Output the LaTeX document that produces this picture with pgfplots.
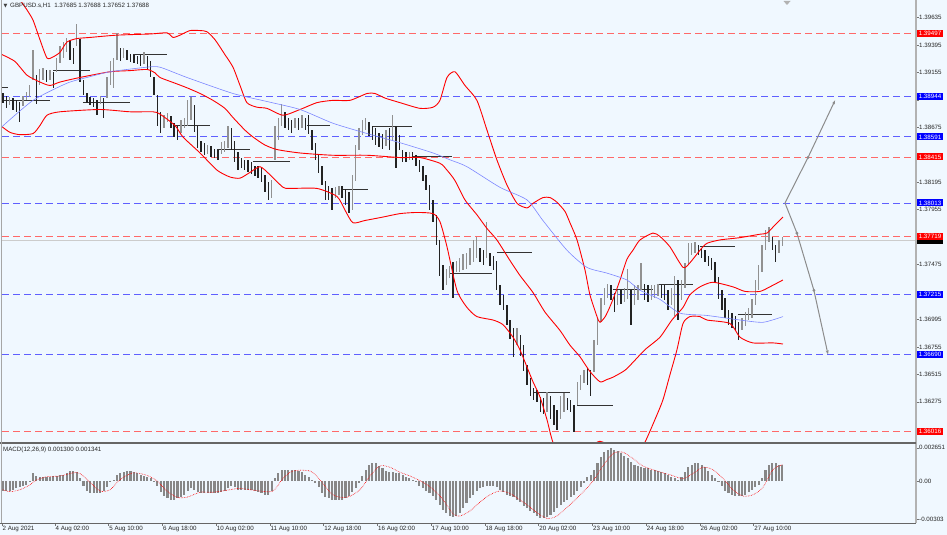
\documentclass[border=0pt]{standalone}
\usepackage{pgfplots}
\pgfplotsset{compat=1.18}
\usepackage{pgfplotstable}
\usetikzlibrary{arrows.meta}
\usepackage{fontspec}
\setmainfont{Liberation Sans}
\newfontfamily\symfont{DejaVu Sans}
\definecolor{bg}{RGB}{240,248,255}
\definecolor{bbred}{RGB}{255,0,0}
\definecolor{lvlred}{RGB}{255,105,105}
\definecolor{lvlblue}{RGB}{95,95,255}
\definecolor{mablue}{RGB}{125,135,255}
\definecolor{upgray}{RGB}{145,145,145}
\definecolor{dnblack}{RGB}{35,35,35}
\definecolor{histgray}{RGB}{135,135,135}
\definecolor{arrowgray}{RGB}{140,140,140}
\newcommand{\tf}{\fontsize{6.2}{7}\selectfont}

\pgfplotstableread{
x h l u
0 1.3897 1.3889 0
2 1.3895 1.3884 0
4 1.3894 1.3887 1
6 1.3893 1.3883 0
8 1.3891 1.3881 0
10 1.3890 1.3872 0
12 1.3895 1.3886 1
14 1.3898 1.3891 1
16 1.3904 1.3894 1
18 1.3935 1.3909 1
20 1.3913 1.3888 0
22 1.3918 1.3904 1
24 1.3919 1.3909 1
26 1.3918 1.3907 0
28 1.3918 1.3909 1
30 1.3916 1.3902 0
32 1.3928 1.3916 1
34 1.3939 1.3924 1
36 1.3942 1.3928 1
38 1.3946 1.3933 1
40 1.3944 1.3926 0
42 1.3937 1.3923 0
44 1.3958 1.3939 1
46 1.3945 1.3907 0
48 1.3909 1.3896 0
50 1.3897 1.3889 0
52 1.3894 1.3887 0
54 1.3893 1.3885 0
56 1.3891 1.3878 0
58 1.3895 1.3888 1
60 1.3893 1.3876 0
62 1.3911 1.3893 1
64 1.3925 1.3904 1
66 1.3928 1.3902 1
68 1.3950 1.3926 1
70 1.3937 1.3925 0
72 1.3937 1.3928 1
74 1.3935 1.3926 0
76 1.3932 1.3925 0
78 1.3931 1.3924 0
80 1.3930 1.3923 0
82 1.3931 1.3921 0
84 1.3933 1.3923 1
86 1.3930 1.3918 0
88 1.3925 1.3911 0
90 1.3911 1.3896 0
92 1.3896 1.3869 0
94 1.3881 1.3863 0
96 1.3878 1.3867 1
98 1.3880 1.3872 1
100 1.3877 1.3867 0
102 1.3871 1.3859 0
104 1.3869 1.3856 0
106 1.3874 1.3863 1
108 1.3876 1.3867 1
110 1.3891 1.3869 1
112 1.3894 1.3874 1
114 1.3887 1.3863 0
116 1.3869 1.3849 0
118 1.3856 1.3846 0
120 1.3854 1.3843 0
122 1.3852 1.3844 1
124 1.3851 1.3842 0
126 1.3849 1.3841 0
128 1.3848 1.3839 0
130 1.3855 1.3844 1
132 1.3856 1.3846 1
134 1.3869 1.3849 1
136 1.3867 1.3848 0
138 1.3856 1.3837 0
140 1.3846 1.3830 0
142 1.3841 1.3832 0
144 1.3839 1.3830 0
146 1.3839 1.3828 0
148 1.3837 1.3827 0
150 1.3834 1.3825 0
152 1.3834 1.3823 0
154 1.3832 1.3820 0
156 1.3826 1.3811 0
158 1.3820 1.3804 0
160 1.3821 1.3806 1
162 1.3869 1.3839 1
164 1.3876 1.3856 1
166 1.3888 1.3869 1
168 1.3881 1.3867 0
170 1.3876 1.3865 0
172 1.3874 1.3863 0
174 1.3876 1.3867 1
176 1.3876 1.3865 0
178 1.3878 1.3867 1
180 1.3876 1.3865 0
182 1.3878 1.3862 0
184 1.3865 1.3848 0
186 1.3854 1.3839 0
188 1.3843 1.3828 0
190 1.3834 1.3817 0
192 1.3821 1.3804 0
194 1.3816 1.3804 0
196 1.3814 1.3795 0
198 1.3815 1.3806 1
200 1.3816 1.3808 1
202 1.3816 1.3806 0
204 1.3814 1.3800 0
206 1.3811 1.3793 0
208 1.3826 1.3795 1
210 1.3852 1.3821 1
212 1.3867 1.3848 1
214 1.3874 1.3861 1
216 1.3876 1.3865 1
218 1.3872 1.3860 0
220 1.3869 1.3856 0
222 1.3867 1.3852 0
224 1.3863 1.3850 0
226 1.3862 1.3849 0
228 1.3865 1.3851 1
230 1.3867 1.3848 0
232 1.3878 1.3856 1
234 1.3869 1.3832 0
236 1.3861 1.3848 0
238 1.3848 1.3837 0
240 1.3846 1.3837 0
242 1.3846 1.3839 1
244 1.3846 1.3839 0
246 1.3843 1.3834 0
248 1.3839 1.3828 0
250 1.3834 1.3821 0
252 1.3826 1.3813 0
254 1.3817 1.3795 0
256 1.3804 1.3785 0
258 1.3791 1.3765 0
260 1.3769 1.3738 0
262 1.3747 1.3725 0
264 1.3744 1.3730 1
266 1.3746 1.3736 1
268 1.3750 1.3718 0
270 1.3751 1.3741 1
272 1.3753 1.3741 1
274 1.3757 1.3743 1
276 1.3758 1.3744 1
278 1.3762 1.3747 1
280 1.3769 1.3750 1
282 1.3772 1.3753 1
284 1.3762 1.3750 0
286 1.3760 1.3747 0
288 1.3785 1.3753 1
290 1.3758 1.3746 0
292 1.3755 1.3743 0
294 1.3751 1.3725 0
296 1.3730 1.3712 0
298 1.3721 1.3708 0
300 1.3712 1.3695 0
302 1.3699 1.3682 0
304 1.3692 1.3667 0
306 1.3692 1.3677 1
308 1.3686 1.3668 0
310 1.3677 1.3654 0
312 1.3660 1.3642 0
314 1.3648 1.3633 0
316 1.3640 1.3629 0
318 1.3638 1.3627 0
320 1.3632 1.3619 0
322 1.3631 1.3617 0
324 1.3636 1.3619 1
326 1.3633 1.3613 0
328 1.3625 1.3607 0
330 1.3620 1.3603 0
332 1.3633 1.3613 1
334 1.3635 1.3619 1
336 1.3631 1.3620 0
338 1.3629 1.3619 0
340 1.3625 1.3601 0
342 1.3645 1.3625 1
344 1.3651 1.3638 1
346 1.3655 1.3644 1
348 1.3657 1.3642 0
350 1.3655 1.3633 0
352 1.3682 1.3654 1
354 1.3701 1.3677 1
356 1.3718 1.3697 1
358 1.3727 1.3712 1
360 1.3731 1.3718 1
362 1.3730 1.3717 0
364 1.3723 1.3706 0
366 1.3725 1.3712 1
368 1.3725 1.3713 0
370 1.3727 1.3715 1
372 1.3744 1.3717 1
374 1.3725 1.3695 0
376 1.3730 1.3712 1
378 1.3730 1.3717 1
380 1.3749 1.3725 1
382 1.3731 1.3717 0
384 1.3730 1.3715 0
386 1.3730 1.3717 1
388 1.3730 1.3718 1
390 1.3731 1.3720 1
392 1.3730 1.3718 0
394 1.3730 1.3717 0
396 1.3725 1.3708 0
398 1.3727 1.3712 1
400 1.3738 1.3703 1
402 1.3734 1.3699 0
404 1.3734 1.3717 1
406 1.3749 1.3727 1
408 1.3766 1.3747 1
410 1.3766 1.3756 1
412 1.3767 1.3758 1
414 1.3765 1.3756 0
416 1.3762 1.3753 0
418 1.3760 1.3750 0
420 1.3755 1.3746 0
422 1.3753 1.3743 0
424 1.3750 1.3732 0
426 1.3737 1.3717 0
428 1.3725 1.3708 0
430 1.3718 1.3701 0
432 1.3708 1.3695 0
434 1.3705 1.3692 0
436 1.3703 1.3690 0
438 1.3697 1.3682 0
440 1.3701 1.3690 1
442 1.3706 1.3694 1
444 1.3710 1.3699 1
446 1.3717 1.3701 1
448 1.3734 1.3712 1
450 1.3747 1.3725 1
452 1.3765 1.3741 1
454 1.3778 1.3760 1
456 1.3780 1.3767 1
458 1.3772 1.3760 0
460 1.3765 1.3750 0
462 1.3769 1.3758 1
464 1.3772 1.3764 1
}\bars

\pgfplotstableread{
x y
7.2 1.3987
10.2 1.3979
14.4 1.3970
18.0 1.3961
22.1 1.3944
26.3 1.3928
29.9 1.3929
34.0 1.3933
38.2 1.3942
44.1 1.3945
51.9 1.3946
67.9 1.3948
87.6 1.3949
97.7 1.3950
101.3 1.3946
105.5 1.3948
111.4 1.3952
117.4 1.3952
121.5 1.3951
126.3 1.3944
132.2 1.3931
137.0 1.3920
141.2 1.3904
145.3 1.3889
151.3 1.3885
157.2 1.3884
166.8 1.3878
176.9 1.3883
187.0 1.3889
196.5 1.3891
206.6 1.3891
216.8 1.3897
221.5 1.3897
227.5 1.3893
236.4 1.3889
248.3 1.3884
256.1 1.3885
260.2 1.3891
264.4 1.3911
269.1 1.3916
275.1 1.3904
282.2 1.3891
288.2 1.3865
294.1 1.3839
300.1 1.3817
306.1 1.3801
312.0 1.3797
315.6 1.3801
321.5 1.3806
325.7 1.3806
329.8 1.3802
334.6 1.3794
337.6 1.3784
341.8 1.3769
346.5 1.3743
349.5 1.3721
353.7 1.3702
355.5 1.3697
359.0 1.3703
363.2 1.3717
367.4 1.3734
371.5 1.3752
375.1 1.3760
379.3 1.3769
387.0 1.3775
391.2 1.3772
397.1 1.3763
404.9 1.3745
409.0 1.3749
415.0 1.3760
419.1 1.3766
426.9 1.3769
438.8 1.3771
450.7 1.3774
454.9 1.3775
459.6 1.3782
464.4 1.3789
}\ub

\pgfplotstableread{
x y
-0.5 1.3931
7.2 1.3925
14.4 1.3913
22.1 1.3907
28.1 1.3904
34.0 1.3907
45.9 1.3911
63.8 1.3916
75.7 1.3917
85.8 1.3918
90.6 1.3915
93.5 1.3911
102.5 1.3906
109.6 1.3902
117.4 1.3897
125.1 1.3891
132.2 1.3884
137.0 1.3876
144.1 1.3865
148.9 1.3859
156.0 1.3852
163.2 1.3848
176.9 1.3845
196.5 1.3843
216.8 1.3843
236.4 1.3841
248.3 1.3841
260.2 1.3836
264.4 1.3830
269.1 1.3821
275.1 1.3804
282.2 1.3791
288.2 1.3779
294.1 1.3769
301.9 1.3751
307.8 1.3738
315.6 1.3723
322.7 1.3706
331.6 1.3690
337.6 1.3677
343.5 1.3667
349.5 1.3654
355.5 1.3645
359.6 1.3647
363.2 1.3649
370.3 1.3655
375.1 1.3662
382.2 1.3673
391.2 1.3684
398.3 1.3699
404.9 1.3710
409.0 1.3721
415.0 1.3728
422.7 1.3732
434.6 1.3728
441.8 1.3724
450.7 1.3724
456.6 1.3728
464.4 1.3734
}\mb

\pgfplotstableread{
x y
-0.5 1.3868
4.3 1.3863
10.2 1.3861
18.0 1.3862
22.1 1.3869
26.3 1.3878
34.0 1.3881
57.8 1.3883
75.7 1.3881
89.4 1.3881
93.5 1.3879
102.5 1.3869
107.2 1.3859
117.4 1.3845
127.5 1.3830
135.2 1.3824
141.2 1.3823
147.1 1.3828
153.1 1.3833
159.0 1.3826
166.8 1.3815
170.9 1.3814
187.0 1.3814
198.9 1.3807
203.7 1.3795
208.4 1.3784
215.6 1.3786
226.3 1.3789
236.4 1.3792
246.5 1.3793
256.1 1.3792
260.2 1.3785
264.4 1.3763
270.3 1.3725
276.3 1.3710
282.2 1.3702
291.8 1.3699
297.7 1.3695
303.7 1.3684
307.8 1.3673
312.0 1.3658
315.6 1.3645
319.7 1.3632
323.9 1.3612
327.5 1.3592
334.6 1.3572
343.5 1.3581
351.3 1.3590
355.5 1.3593
359.6 1.3590
367.4 1.3577
376.3 1.3578
382.2 1.3592
388.2 1.3612
392.9 1.3629
397.1 1.3651
401.3 1.3673
404.9 1.3696
409.0 1.3702
415.0 1.3702
419.1 1.3699
432.8 1.3696
438.8 1.3684
446.5 1.3679
458.4 1.3679
464.4 1.3678
}\lb

\pgfplotstableread{
x y
-0.5 1.3868
18.0 1.3891
38.2 1.3906
50.1 1.3911
63.8 1.3916
85.8 1.3920
93.5 1.3920
109.6 1.3911
137.0 1.3897
157.2 1.3890
176.9 1.3883
196.5 1.3871
216.8 1.3862
236.4 1.3854
256.1 1.3845
266.2 1.3839
276.3 1.3833
295.9 1.3815
312.0 1.3804
321.5 1.3786
335.8 1.3760
347.7 1.3745
359.6 1.3740
371.5 1.3734
379.3 1.3725
391.2 1.3717
403.1 1.3705
419.1 1.3703
438.8 1.3699
452.5 1.3697
464.4 1.3702
}\ma

\pgfplotstableread{
x y
-0.5 1.3902
3.1 1.3902
nan nan
0.1 1.3891
28.1 1.3891
nan nan
29.9 1.3917
51.9 1.3917
nan nan
47.7 1.3889
75.7 1.3889
nan nan
77.5 1.3931
97.7 1.3931
nan nan
101.3 1.3869
123.3 1.3869
nan nan
127.5 1.3848
147.1 1.3848
nan nan
148.9 1.3838
170.9 1.3838
nan nan
181.0 1.3869
194.7 1.3869
nan nan
202.5 1.3813
217.4 1.3813
nan nan
220.3 1.3868
243.5 1.3868
nan nan
244.1 1.3842
267.4 1.3842
nan nan
266.2 1.3740
291.2 1.3740
nan nan
294.1 1.3758
315.0 1.3758
nan nan
315.6 1.3636
337.6 1.3636
nan nan
341.8 1.3624
363.2 1.3624
nan nan
363.2 1.3726
387.0 1.3726
nan nan
389.4 1.3730
410.8 1.3730
nan nan
415.0 1.3763
435.8 1.3763
nan nan
437.6 1.3704
457.8 1.3704
}\piv

\pgfplotstableread{
x m
0 -0.0008
2 -0.0008
4 -0.0008
6 -0.0007
8 -0.0006
10 -0.0005
12 -0.0004
14 -0.0003
16 -0.0001
18 0.0006
20 0.0004
22 0.0003
24 0.0003
26 0.0003
28 0.0003
30 0.0004
32 0.0004
34 0.0005
36 0.0005
38 0.0006
40 0.0008
42 0.0008
44 0.0007
46 0.0002
48 -0.0004
50 -0.0008
52 -0.0010
54 -0.0010
56 -0.0010
58 -0.0010
60 -0.0008
62 -0.0005
64 -0.0001
66 0.0001
68 0.0005
70 0.0006
72 0.0007
74 0.0008
76 0.0008
78 0.0007
80 0.0006
82 0.0005
84 0.0004
86 0.0003
88 0.0002
90 -0.0001
92 -0.0004
94 -0.0009
96 -0.0012
98 -0.0014
100 -0.0015
102 -0.0015
104 -0.0014
106 -0.0013
108 -0.0011
110 -0.0008
112 -0.0006
114 -0.0007
116 -0.0009
118 -0.0010
120 -0.0010
122 -0.0010
124 -0.0010
126 -0.0010
128 -0.0010
130 -0.0009
132 -0.0008
134 -0.0006
136 -0.0004
138 -0.0005
140 -0.0007
142 -0.0007
144 -0.0007
146 -0.0007
148 -0.0007
150 -0.0008
152 -0.0009
154 -0.0010
156 -0.0011
158 -0.0011
160 -0.0008
162 0.0002
164 0.0006
166 0.0009
168 0.0009
170 0.0009
172 0.0009
174 0.0009
176 0.0008
178 0.0007
180 0.0005
182 0.0003
184 0.0001
186 -0.0002
188 -0.0005
190 -0.0010
192 -0.0013
194 -0.0014
196 -0.0015
198 -0.0015
200 -0.0015
202 -0.0015
204 -0.0014
206 -0.0012
208 -0.0009
210 -0.0006
212 -0.0002
214 0.0004
216 0.0009
218 0.0013
220 0.0014
222 0.0014
224 0.0012
226 0.0010
228 0.0008
230 0.0007
232 0.0007
234 0.0006
236 0.0006
238 0.0005
240 0.0003
242 0.0002
244 0.0001
246 -0.0001
248 -0.0004
250 -0.0006
252 -0.0008
254 -0.0010
256 -0.0012
258 -0.0015
260 -0.0019
262 -0.0023
264 -0.0026
266 -0.0028
268 -0.0029
270 -0.0028
272 -0.0026
274 -0.0022
276 -0.0018
278 -0.0014
280 -0.0011
282 -0.0008
284 -0.0006
286 -0.0005
288 -0.0004
290 -0.0004
292 -0.0004
294 -0.0005
296 -0.0007
298 -0.0009
300 -0.0011
302 -0.0012
304 -0.0013
306 -0.0015
308 -0.0017
310 -0.0020
312 -0.0022
314 -0.0024
316 -0.0026
318 -0.0028
320 -0.0030
322 -0.0030
324 -0.0029
326 -0.0027
328 -0.0025
330 -0.0022
332 -0.0019
334 -0.0017
336 -0.0015
338 -0.0013
340 -0.0011
342 -0.0008
344 -0.0005
346 -0.0002
348 0.0003
350 0.0005
352 0.0009
354 0.0014
356 0.0019
358 0.0023
360 0.0025
362 0.0026
364 0.0025
366 0.0024
368 0.0022
370 0.0020
372 0.0018
374 0.0015
376 0.0013
378 0.0012
380 0.0011
382 0.0010
384 0.0010
386 0.0009
388 0.0009
390 0.0008
392 0.0007
394 0.0006
396 0.0005
398 0.0003
400 0.0002
402 0.0001
404 0.0003
406 0.0007
408 0.0011
410 0.0013
412 0.0014
414 0.0014
416 0.0013
418 0.0011
420 0.0008
422 0.0005
424 0.0002
426 -0.0001
428 -0.0004
430 -0.0008
432 -0.0010
434 -0.0011
436 -0.0012
438 -0.0012
440 -0.0012
442 -0.0011
444 -0.0009
446 -0.0007
448 -0.0005
450 -0.0003
452 0.0002
454 0.0009
456 0.0013
458 0.0014
460 0.0014
462 0.0013
464 0.0013
}\macd

\pgfplotstableread{
x s
0 -0.0007
4.3 -0.00085
10.2 -0.0007
16.2 -0.0003
20.3 0.0001
26.3 0.00035
34 0.0004
41.8 0.00065
45.9 0.0006
51.9 -0.0001
57.8 -0.0008
63.8 -0.0007
69.7 0.0001
77.5 0.00065
85.8 0.00045
91.8 0.0000
97.7 -0.0008
103.7 -0.0013
109.6 -0.0013
117.4 -0.0009
125.1 -0.0009
135.2 -0.0007
141.2 -0.0006
153 -0.0008
160.8 -0.0008
166.8 0.0002
172.7 0.0008
182.8 0.0008
188.8 0.0001
196.5 -0.0011
204.8 -0.0013
212.6 -0.0007
218.5 0.0004
224.5 0.0012
230.4 0.0011
236.4 0.0007
244.1 0.0003
252.5 -0.0003
260.2 -0.0012
268 -0.0026
272.1 -0.0028
278 -0.0024
284 -0.0017
290 -0.0011
295.9 -0.0008
301.9 -0.0010
307.8 -0.0015
313.8 -0.0021
319.7 -0.0027
324.5 -0.0030
329.8 -0.0028
337.6 -0.0019
345.3 -0.0009
351.3 0.0000
357.2 0.0012
363.2 0.0022
369.1 0.0023
375.1 0.0018
381 0.0012
389.4 0.0008
397.1 0.0005
404.9 0.0002
410.8 0.0006
416.8 0.0011
422.7 0.0009
428.7 0.0002
434.6 -0.0007
440.6 -0.0012
446.5 -0.0011
452.5 -0.0005
458.4 0.0009
464 0.0013
}\sig

\begin{document}
\begin{tikzpicture}[x=1pt,y=1pt]
\fill[bg] (0,0) rectangle (947,535);
\useasboundingbox (0,0) rectangle (947,535);

\begin{axis}[
  at={(2pt,92pt)}, anchor=south west, width=914pt, height=440pt, scale only axis,
  xmin=-0.5, xmax=543.6, ymin=1.35915, ymax=1.39761,
  axis x line=none, axis y line*=right,
  y axis line style={draw=none},
  scaled ticks=false,
  ytick={1.36035,1.36275,1.36515,1.36755,1.36995,1.37235,1.37475,1.37715,1.37955,1.38195,1.38435,1.38675,1.38915,1.39155,1.39395,1.39635},
  yticklabels={,1.36275,1.36515,1.36755,1.36995,,1.37475,,1.37955,1.38195,,1.38675,,1.39155,1.39395,1.39635},
  tick align=outside, major tick length=2.5pt,
  ytick style={draw=black!55, line width=0.5pt},
  yticklabel style={font=\tf, text=black!85, inner sep=0.5pt},
  clip mode=individual,
]
% current price line
\addplot[black!20, line width=0.6pt, forget plot] coordinates {(-0.5,1.37688) (543.6,1.37688)};
% levels
\addplot[lvlred, dash pattern=on 7pt off 4pt, line width=0.8pt, forget plot] coordinates {(-0.5,1.39497) (543.6,1.39497)};
\addplot[lvlred, dash pattern=on 7pt off 4pt, line width=0.8pt, forget plot] coordinates {(-0.5,1.38415) (543.6,1.38415)};
\addplot[lvlred, dash pattern=on 7pt off 4pt, line width=0.8pt, forget plot] coordinates {(-0.5,1.37719) (543.6,1.37719)};
\addplot[lvlred, dash pattern=on 7pt off 4pt, line width=0.8pt, forget plot] coordinates {(-0.5,1.36016) (543.6,1.36016)};
\addplot[lvlblue, dash pattern=on 7pt off 4pt, line width=0.8pt, forget plot] coordinates {(-0.5,1.38944) (543.6,1.38944)};
\addplot[lvlblue, dash pattern=on 7pt off 4pt, line width=0.8pt, forget plot] coordinates {(-0.5,1.38591) (543.6,1.38591)};
\addplot[lvlblue, dash pattern=on 7pt off 4pt, line width=0.8pt, forget plot] coordinates {(-0.5,1.38013) (543.6,1.38013)};
\addplot[lvlblue, dash pattern=on 7pt off 4pt, line width=0.8pt, forget plot] coordinates {(-0.5,1.37215) (543.6,1.37215)};
\addplot[lvlblue, dash pattern=on 7pt off 4pt, line width=0.8pt, forget plot] coordinates {(-0.5,1.36690) (543.6,1.36690)};
% pivot segments
\addplot[black!80, line width=0.9pt, unbounded coords=jump, forget plot] table[x=x,y=y] {\piv};
% price bars
\addplot[draw=none, mark=none, forget plot,
  restrict expr to domain={\thisrow{u}}{0.5:1.5},
  error bars/.cd, y dir=both, y explicit, error mark=none,
  error bar style={draw=upgray, line width=1.4pt}]
  table[x=x, y expr=(\thisrow{h}+\thisrow{l})/2, y error expr=(\thisrow{h}-\thisrow{l})/2] {\bars};
\addplot[draw=none, mark=none, forget plot,
  restrict expr to domain={\thisrow{u}}{-0.5:0.5},
  error bars/.cd, y dir=both, y explicit, error mark=none,
  error bar style={draw=dnblack, line width=1.4pt}]
  table[x=x, y expr=(\thisrow{h}+\thisrow{l})/2, y error expr=(\thisrow{h}-\thisrow{l})/2] {\bars};
% bollinger bands
\addplot[bbred, line width=0.9pt, smooth, tension=0.4, forget plot] table[x=x,y=y] {\ub};
\addplot[bbred, line width=0.9pt, smooth, tension=0.4, forget plot] table[x=x,y=y] {\mb};
\addplot[bbred, line width=0.9pt, smooth, tension=0.4, forget plot] table[x=x,y=y] {\lb};
% moving average
\addplot[mablue, line width=0.6pt, smooth, tension=0.4, forget plot] table[x=x,y=y] {\ma};
% arrows
\addplot[arrowgray, line width=1pt, -{Stealth[length=4pt,width=3pt]}, mark=*, mark size=0.9pt, mark indices={2}, forget plot]
  coordinates {(465.6,1.38013) (479.3,1.3841) (495.4,1.3891)};
\addplot[arrowgray, line width=1pt, -{Stealth[length=4pt,width=3pt]}, mark=*, mark size=0.9pt, mark indices={2,3}, forget plot]
  coordinates {(465.6,1.38013) (472.7,1.3775) (482.8,1.3725) (491.2,1.3669)};
% label anchors
\coordinate (c1) at (axis cs:543.6,1.39497);
\coordinate (c2) at (axis cs:543.6,1.38944);
\coordinate (c3) at (axis cs:543.6,1.38591);
\coordinate (c4) at (axis cs:543.6,1.38415);
\coordinate (c5) at (axis cs:543.6,1.38013);
\coordinate (c6) at (axis cs:543.6,1.37719);
\coordinate (c7) at (axis cs:543.6,1.37688);
\coordinate (c8) at (axis cs:543.6,1.37215);
\coordinate (c9) at (axis cs:543.6,1.36690);
\coordinate (c10) at (axis cs:543.6,1.36016);
\end{axis}

\begin{axis}[
  at={(2pt,12pt)}, anchor=south west, width=914pt, height=79pt, scale only axis,
  xmin=-0.5, xmax=543.6, ymin=-0.00336, ymax=0.00296,
  axis x line*=bottom, axis y line*=right,
  axis line style={draw=none},
  scaled ticks=false,
  xtick={-0.5,31,63,95,127,159,191,223,255,287,319,351,383,415,447},
  xticklabels={2 Aug 2021,4 Aug 02:00,5 Aug 10:00,6 Aug 18:00,10 Aug 02:00,11 Aug 10:00,12 Aug 18:00,16 Aug 02:00,17 Aug 10:00,18 Aug 18:00,20 Aug 02:00,23 Aug 10:00,24 Aug 18:00,26 Aug 02:00,27 Aug 10:00},
  ytick={-0.00303,0,0.002651},
  yticklabels={-0.00303,0.00,0.002651},
  tick align=outside, major tick length=2.5pt,
  tick style={draw=black!55, line width=0.5pt},
  xticklabel style={font=\tf, text=black!85, anchor=north west, inner sep=0.5pt},
  yticklabel style={font=\tf, text=black!85, inner sep=0.5pt},
  clip mode=individual,
]
\addplot[ycomb, draw=histgray, line width=2.1pt, forget plot] table[x=x,y=m] {\macd};
\addplot[bbred, densely dotted, line width=0.6pt, smooth, forget plot] table[x=x,y=s] {\sig};
\end{axis}

% frame lines
\draw[black!30, line width=1.2pt] (916,535) -- (916,12);
\draw[black!60, line width=1.2pt] (0,92) -- (916,92);
\draw[black!60, line width=0.8pt] (0,12) -- (916,12);
\draw[black!35, line width=0.8pt] (1,535) -- (1,12);

% price label boxes
\tikzset{lab/.style={anchor=west, xshift=0.6pt, inner xsep=2pt, inner ysep=0pt, minimum height=7pt, text=white, font=\tf, text height=4.5pt, text depth=0pt}}
\node[lab, fill=red] at (c1) {1.39497};
\node[lab, fill=blue] at (c2) {1.38944};
\node[lab, fill=blue] at (c3) {1.38591};
\node[lab, fill=red] at (c4) {1.38415};
\node[lab, fill=blue] at (c5) {1.38013};
\node[lab, fill=black, yshift=-1pt, minimum height=5pt] at (c7) {\phantom{1.37688}};
\node[lab, fill=red] at (c6) {1.37719};
\node[lab, fill=blue] at (c8) {1.37215};
\node[lab, fill=blue] at (c9) {1.36690};
\node[lab, fill=red] at (c10) {1.36016};

% header texts
\node[font=\symfont\fontsize{5}{6}\selectfont, text=black!75, inner sep=0] at (5.5,529) {▼};
\node[anchor=west, font=\tf, text=black!85, inner sep=0] at (10,529) {GBPUSD.s,H1\ \ 1.37685 1.37688 1.37652 1.37688};
\node[anchor=west, font=\tf, text=black!85, inner sep=0] at (3,85.5) {MACD(12,26,9) 0.001300 0.001341};
\fill[black!30] (783.5,534) -- (790.5,534) -- (787,530) -- cycle;
\end{tikzpicture}
\end{document}
